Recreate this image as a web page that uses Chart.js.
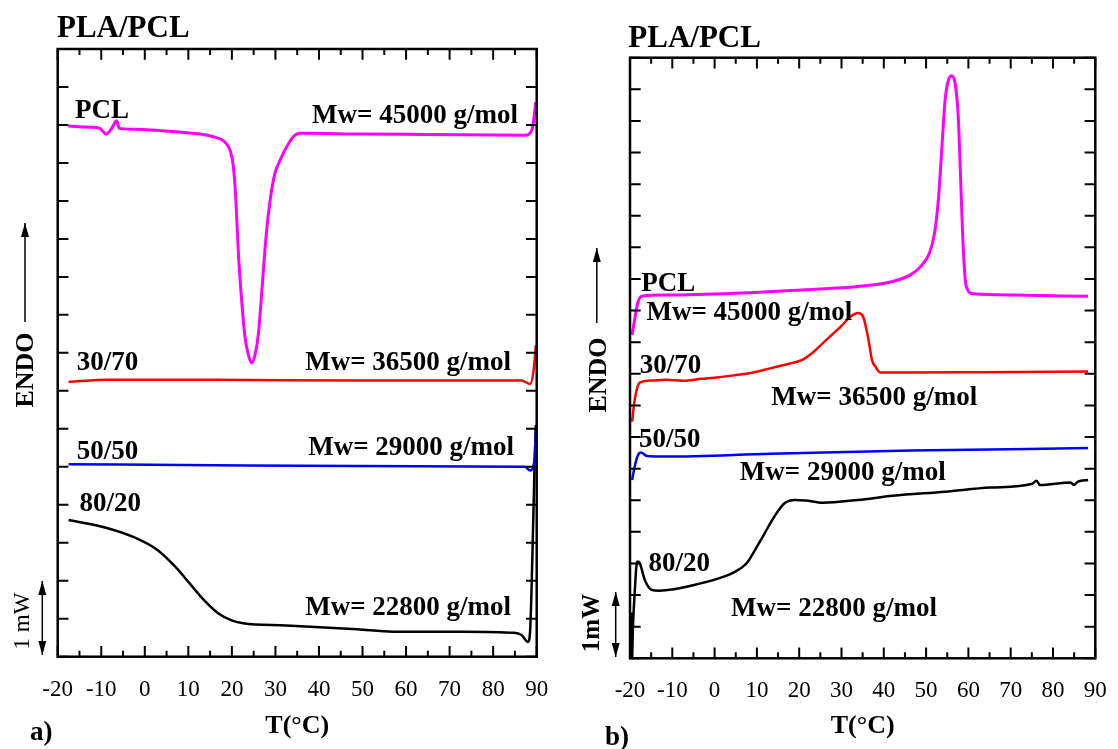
<!DOCTYPE html>
<html>
<head>
<meta charset="utf-8">
<script src="https://cdn.jsdelivr.net/npm/chart.js@4.4.1/dist/chart.umd.min.js"></script>
<style>
    html, body { margin: 0; padding: 0; background: #fff; }
    #wrap { position: relative; width: 1118px; height: 749px; }
    #wrap canvas { position: absolute; top: 0; }
</style>
</head>
<body>
<div id="wrap">
    <canvas id="chartA" width="560" height="749" style="left:0"></canvas>
    <canvas id="chartB" width="558" height="749" style="left:560px"></canvas>
</div>
<script>
// PLA/PCL DSC curves - a) cooling, b) heating

// Panel a) temperature (°C) and heat flow (arbitrary units, 1 unit = 1 tick)
const tA_pcl = [-17.6, -12.6, -10.3, -8.9, -7.6, -6.45, -5.85, -2.6, 3.75, 12.7, 15.7, 18.0, 19.2, 20.0, 20.5, 20.95, 21.5, 22.3, 23.0, 23.8, 24.55, 25.3, 26.1, 26.85, 27.85, 28.9, 29.9, 31.1, 32.6, 34.1, 35.65, 38.0, 48.8, 65.2, 87.3, 88.9, 89.8];
const yA_pcl = [13.97, 13.94, 13.91, 13.76, 13.91, 14.11, 13.91, 13.89, 13.85, 13.76, 13.69, 13.59, 13.43, 13.16, 12.73, 11.94, 10.62, 9.30, 8.43, 7.94, 7.73, 7.94, 8.51, 9.57, 11.06, 12.11, 12.73, 13.08, 13.43, 13.69, 13.78, 13.78, 13.76, 13.75, 13.73, 13.87, 14.6];
const tA_3070 = [-17.5, -8.5, 16.0, 48.8, 86.5, 88.5, 89.3, 89.8];
const yA_3070 = [7.24, 7.29, 7.29, 7.27, 7.27, 7.18, 7.55, 8.2];
const tA_5050 = [-17.5, 16.0, 48.8, 87.3, 88.5, 89.5, 89.8];
const yA_5050 = [5.07, 5.04, 5.02, 5.00, 4.90, 5.18, 5.95];
const tA_8020 = [-17.5, -8.5, -2.0, 2.9, 7.0, 10.3, 13.6, 16.9, 20.1, 22.6, 32.4, 48.8, 57.0, 73.4, 84.8, 86.5, 88.0, 88.5, 89.0, 89.5, 89.8];
const yA_8020 = [3.60, 3.38, 3.12, 2.81, 2.37, 1.93, 1.49, 1.14, 0.95, 0.88, 0.82, 0.72, 0.66, 0.66, 0.63, 0.57, 0.39, 0.7, 2.6, 5.0, 6.1];

// Panel b)
const tB_pcl = [-19.5, -18.9, -18.1, -16.9, -11.5, 5.0, 21.5, 33.9, 42.1, 46.3, 48.7, 50.8, 52.0, 52.9, 53.7, 54.5, 55.3, 56.1, 56.9, 57.6, 58.2, 58.8, 59.5, 61.1, 71.0, 88.3];
const yB_pcl = [10.23, 10.71, 11.28, 11.46, 11.49, 11.55, 11.66, 11.76, 11.92, 12.13, 12.39, 12.82, 13.45, 14.50, 16.09, 17.67, 18.30, 18.43, 18.15, 17.14, 15.03, 12.92, 11.76, 11.53, 11.49, 11.45];
const tB_3070 = [-19.5, -18.9, -17.7, -14.8, -11.5, -7.4, -3.25, 0.9, 5.0, 9.1, 13.3, 17.4, 20.7, 23.3, 25.6, 29.8, 32.2, 33.9, 35.1, 36.4, 37.2, 38.0, 39.2, 46.3, 62.8, 88.3];
const yB_3070 = [7.49, 8.17, 8.72, 8.79, 8.81, 8.78, 8.84, 8.89, 8.96, 9.04, 9.18, 9.31, 9.44, 9.68, 9.97, 10.49, 10.81, 10.92, 10.81, 10.07, 9.44, 9.23, 9.04, 9.04, 9.05, 9.07];
const tB_5050 = [-19.5, -18.9, -18.1, -17.4, -16.0, -11.5, 13.3, 46.3, 88.3];
const yB_5050 = [5.64, 6.06, 6.43, 6.51, 6.40, 6.38, 6.47, 6.57, 6.65];
const tB_8020 = [-19.7, -19.55, -19.3, -18.9, -18.3, -17.7, -16.5, -14.8, -13.2, -3.3, 3.3, 5.0, 6.7, 8.0, 9.1, 11.6, 14.1, 16.6, 19.0, 21.5, 25.6, 33.9, 42.1, 54.5, 65.2, 75.1, 76.1, 76.9, 84.2, 84.9, 85.9, 88.3];
const yB_8020 = [1.45, -0.1, 1.0, 2.06, 3.06, 3.01, 2.48, 2.16, 2.14, 2.37, 2.64, 2.75, 2.90, 3.08, 3.32, 3.90, 4.48, 4.91, 5.01, 4.99, 4.92, 5.01, 5.14, 5.27, 5.40, 5.52, 5.62, 5.48, 5.56, 5.48, 5.59, 5.64];

// Curve labels
const blendNames = ['PCL', '30/70', '50/50', '80/20'];
const molarMass = ['Mw= 45000 g/mol', 'Mw= 36500 g/mol', 'Mw= 29000 g/mol', 'Mw= 22800 g/mol'];
const curveColors = ['#ff00ff', '#ff0000', '#0000ff', '#000000'];

const FONT = '"Liberation Serif", "Times New Roman", serif';

function toPoints(t, v) {
    return t.map((x, i) => ({ x: x, y: v[i] }));
}

function makeDatasets(series) {
    return series.map((s, i) => ({
        label: blendNames[i],
        data: toPoints(s[0], s[1]),
        borderColor: curveColors[i],
        borderWidth: i === 0 ? 3 : 2.5,
        pointRadius: 0,
        cubicInterpolationMode: 'monotone',
        fill: false
    }));
}

function arrow(ctx, x, y1, y2, both) {
    // vertical arrow from y1 (tail) to y2 (head)
    const head = 14, half = 4;
    ctx.beginPath();
    ctx.moveTo(x, y1);
    ctx.lineTo(x, y2);
    ctx.stroke();
    const tip = (yt, dir) => {
        ctx.beginPath();
        ctx.moveTo(x, yt);
        ctx.lineTo(x - half, yt + dir * head);
        ctx.lineTo(x + half, yt + dir * head);
        ctx.closePath();
        ctx.fill();
    };
    tip(y2, y2 < y1 ? 1 : -1);
    if (both) tip(y1, y1 < y2 ? 1 : -1);
}

function vText(ctx, text, cx, cy, font) {
    ctx.save();
    ctx.translate(cx, cy);
    ctx.rotate(-Math.PI / 2);
    ctx.font = font;
    ctx.textAlign = 'center';
    ctx.textBaseline = 'middle';
    ctx.fillText(text, 0, 0);
    ctx.restore();
}

// Frame, inward ticks, curve labels and side decorations
const decorPlugin = {
    id: 'decor',
    afterDatasetsDraw(chart, args, opts) {
        const { ctx, chartArea: a, scales: { x, y } } = chart;
        ctx.save();
        ctx.strokeStyle = '#000';
        ctx.fillStyle = '#000';

        // ticks
        ctx.lineWidth = 2;
        ctx.beginPath();
        for (let v = x.min; v <= x.max; v += 5) {
            const px = x.getPixelForValue(v);
            const len = (v % 10 === 0) ? 10.7 : 6;
            ctx.moveTo(px, a.bottom); ctx.lineTo(px, a.bottom - len);
            ctx.moveTo(px, a.top); ctx.lineTo(px, a.top + len);
        }
        for (let v = y.min; v <= y.max; v += 1) {
            const py = y.getPixelForValue(v);
            ctx.moveTo(a.left, py); ctx.lineTo(a.left + 10.7, py);
            ctx.moveTo(a.right, py); ctx.lineTo(a.right - 10.7, py);
        }
        ctx.stroke();

        ctx.lineWidth = 2.5;
        ctx.strokeRect(a.left, a.top, a.right - a.left, a.bottom - a.top);

        // curve labels
        ctx.font = 'bold 27px ' + FONT;
        ctx.textBaseline = 'alphabetic';
        opts.labels.forEach(l => {
            ctx.textAlign = l.align || 'left';
            ctx.fillText(l.text, x.getPixelForValue(l.x), y.getPixelForValue(l.y));
        });

        // panel title and letter
        ctx.textAlign = 'left';
        ctx.font = 'bold 31px ' + FONT;
        ctx.fillText('PLA/PCL', opts.title[0], opts.title[1]);
        ctx.font = 'bold 27px ' + FONT;
        ctx.fillText(opts.letter[0], opts.letter[1], opts.letter[2]);

        // ENDO arrow and label
        ctx.lineWidth = 1.5;
        arrow(ctx, opts.endo.ax, opts.endo.y1, opts.endo.y2, false);
        vText(ctx, 'ENDO', opts.endo.tx, opts.endo.ty, 'bold 26px ' + FONT);

        // 1 mW scale bar
        arrow(ctx, opts.bar.ax, opts.bar.y1, opts.bar.y2, true);
        vText(ctx, opts.bar.text, opts.bar.tx, opts.bar.ty, opts.bar.font);
        ctx.restore();
    }
};

function makeChart(id, datasets, yMax, pad, axisHeight, tickPad, decor) {
    return new Chart(document.getElementById(id), {
        type: 'line',
        data: { datasets: datasets },
        options: {
            responsive: false,
            animation: false,
            devicePixelRatio: 1,
            layout: { padding: pad },
            plugins: {
                legend: { display: false },
                tooltip: { enabled: false },
                decor: decor
            },
            scales: {
                x: {
                    type: 'linear',
                    min: -20,
                    max: 90,
                    grid: { display: false },
                    border: { display: false },
                    ticks: {
                        stepSize: 10,
                        color: '#000',
                        padding: tickPad,
                        font: { family: FONT, size: 23 }
                    },
                    title: {
                        display: true,
                        text: 'T(°C)',
                        color: '#000',
                        font: { family: FONT, size: 26, weight: 'bold' },
                        padding: { top: 0, bottom: 7 }
                    },
                    afterFit: s => { s.height = axisHeight; }
                },
                y: {
                    display: false,
                    min: 0,
                    max: yMax
                }
            }
        },
        plugins: [decorPlugin]
    });
}

makeChart('chartA', makeDatasets([
    [tA_pcl, yA_pcl], [tA_3070, yA_3070], [tA_5050, yA_5050], [tA_8020, yA_8020]
]), 16, { left: 57.7, right: 23.3, top: 49, bottom: 0 }, 92.3, 11.5, {
    labels: [
        { text: blendNames[0], x: -16.0, y: 14.18 },
        { text: molarMass[0], x: 85.7, y: 14.05, align: 'right' },
        { text: blendNames[1], x: -15.6, y: 7.55 },
        { text: molarMass[1], x: 84.1, y: 7.55, align: 'right' },
        { text: blendNames[2], x: -15.6, y: 5.21 },
        { text: molarMass[2], x: 84.8, y: 5.31, align: 'right' },
        { text: blendNames[3], x: -15.0, y: 3.84 },
        { text: molarMass[3], x: 84.1, y: 1.10, align: 'right' }
    ],
    title: [57, 37],
    letter: ['a)', 30, 740],
    endo: { ax: 25, y1: 322, y2: 223, tx: 26, ty: 370 },
    bar: { ax: 42.3, y1: 655, y2: 581, tx: 22.5, ty: 621, text: '1 mW', font: '23px ' + FONT }
});

makeChart('chartB', makeDatasets([
    [tB_pcl, yB_pcl], [tB_3070, yB_3070], [tB_5050, yB_5050], [tB_8020, yB_8020]
]), 19, { left: 70, right: 13.7, top: 57.7, bottom: 0 }, 90.7, 11.2, {
    labels: [
        { text: blendNames[0], x: -17.36, y: 11.62 },
        { text: molarMass[0], x: -16.1, y: 10.71 },
        { text: blendNames[1], x: -17.68, y: 9.03 },
        { text: molarMass[1], x: 13.4, y: 8.02 },
        { text: blendNames[2], x: -17.9, y: 6.69 },
        { text: molarMass[2], x: 5.97, y: 5.64 },
        { text: blendNames[3], x: -15.6, y: 2.76 },
        { text: molarMass[3], x: 3.89, y: 1.34 }
    ],
    title: [68.3, 47],
    letter: ['b)', 45, 745],
    endo: { ax: 36.8, y1: 323, y2: 248, tx: 39, ty: 375 },
    bar: { ax: 55.7, y1: 657, y2: 592, tx: 32.5, ty: 623, text: '1mW', font: 'bold 25px ' + FONT }
});
</script>
</body>
</html>
